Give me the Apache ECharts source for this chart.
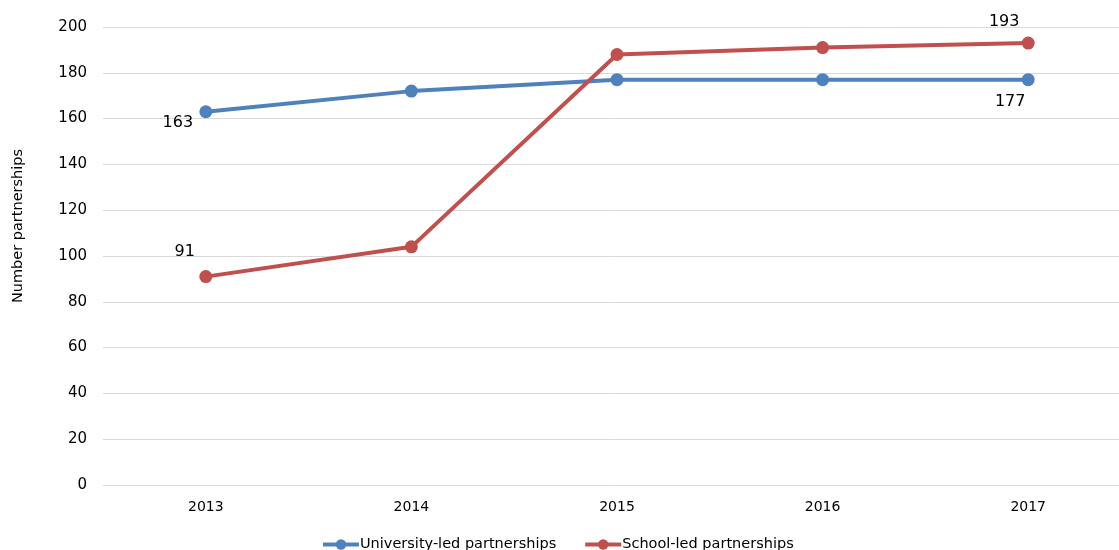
<!DOCTYPE html>
<html><head><meta charset="utf-8">
<script src="https://cdn.jsdelivr.net/npm/echarts@6/dist/echarts.min.js"></script>
<style>html,body{margin:0;padding:0;background:#fff}#c{width:1119px;height:550px}</style>
</head><body><div id="c"></div>
<script>
const categories = ['2013','2014','2015','2016','2017'];
const universityLed = [163, 172, 177, 177, 177];
const schoolLed = [91, 104, 188, 191, 193];
const yTicks = {min: 0, max: 200, interval: 20};

const font = 'DejaVu Sans';
function withLabels(values, offsets) {
  return values.map((v, i) => {
    if (offsets[i]) {
      return {value: v, label: {show: true, position: 'inside', offset: offsets[i],
        fontFamily: font, fontSize: 16, color: '#000'}};
    }
    return v;
  });
}

const chart = echarts.init(document.getElementById('c'));
chart.setOption({
  animation: false,
  grid: {left: 103, width: 1028, top: 27, height: 458, outerBoundsMode: 'none', containLabel: false},
  xAxis: {
    type: 'category', data: categories, boundaryGap: true,
    axisLine: {show: false}, axisTick: {show: false},
    axisLabel: {fontFamily: font, fontSize: 14, color: '#000', margin: 15}
  },
  yAxis: {
    type: 'value', min: yTicks.min, max: yTicks.max, interval: yTicks.interval,
    axisLine: {show: false}, axisTick: {show: false},
    axisLabel: {fontFamily: font, fontSize: 15, color: '#000', margin: 16},
    splitLine: {lineStyle: {color: '#d9d9d9', width: 1}}
  },
  legend: {
    top: 532, left: 316, itemGap: 27, itemWidth: 36, itemHeight: 13,
    lineStyle: {width: 4},
    textStyle: {fontFamily: font, fontSize: 14.5, color: '#000', padding: [0, 0, 0, -4]},
    data: ['University-led partnerships', 'School-led partnerships']
  },
  graphic: [{
    type: 'text', x: 18, y: 226, rotation: Math.PI / 2,
    style: {text: 'Number partnerships', fontFamily: font, fontSize: 14.5, fill: '#000',
      textAlign: 'center', textVerticalAlign: 'middle'}
  }],
  series: [
    {
      name: 'University-led partnerships', type: 'line',
      data: withLabels(universityLed, {0: [-28, 11], 4: [-18, 22]}),
      symbol: 'circle', symbolSize: 13,
      lineStyle: {color: '#4F81BD', width: 4},
      itemStyle: {color: '#4F81BD'}
    },
    {
      name: 'School-led partnerships', type: 'line',
      data: withLabels(schoolLed, {0: [-21, -25], 4: [-24, -21]}),
      symbol: 'circle', symbolSize: 13,
      lineStyle: {color: '#C0504D', width: 4},
      itemStyle: {color: '#C0504D'}
    }
  ]
});
</script></body></html>
